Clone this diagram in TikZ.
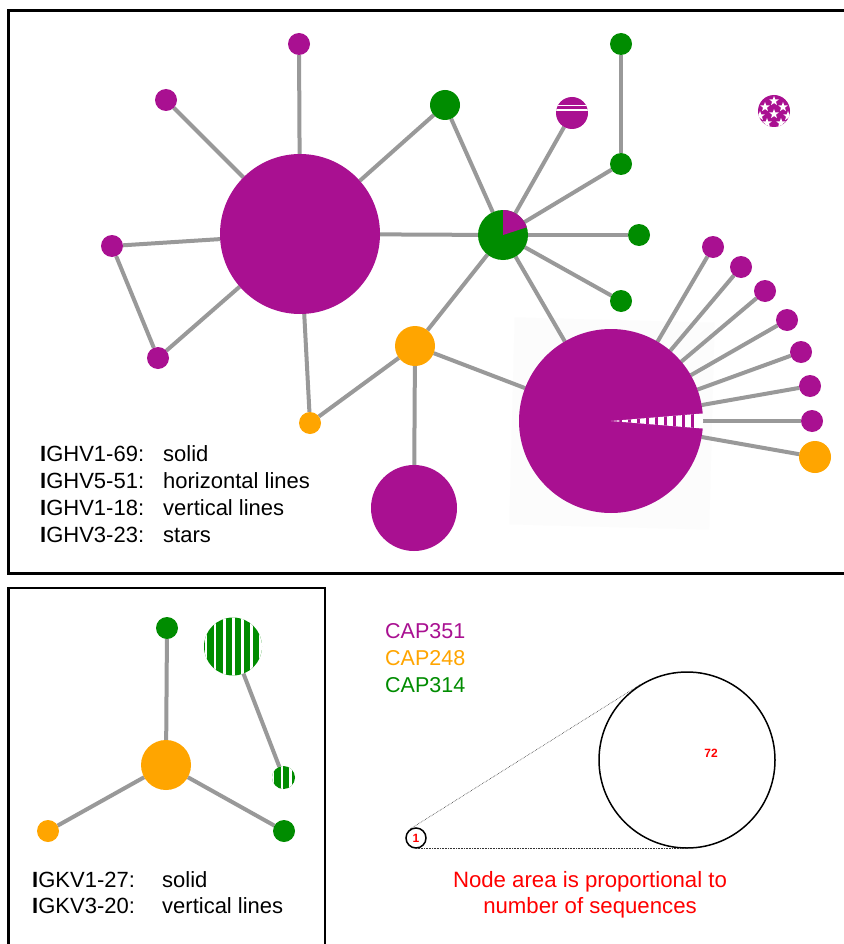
\documentclass[tikz,border=0pt]{standalone}
\usepackage{fontspec}
\setmainfont{Liberation Sans}
\usetikzlibrary{shapes.geometric,backgrounds}
\definecolor{cpur}{RGB}{169,16,145}
\definecolor{corg}{RGB}{255,165,0}
\definecolor{cgrn}{RGB}{0,140,0}
\definecolor{cedge}{RGB}{153,153,153}
\definecolor{cred}{RGB}{255,0,0}
\begin{document}
\begin{tikzpicture}[x=1pt,y=-1pt,
  nd/.style={circle,inner sep=0pt,outer sep=0pt,minimum size=#1},
  pur/.style={nd=#1,fill=cpur},
  org/.style={nd=#1,fill=corg},
  grn/.style={nd=#1,fill=cgrn},
  edge/.style={draw=cedge,line width=4pt},
  frame/.style={draw=black,line width=2.6pt},
  lab/.style={font=\fontsize{22}{26}\selectfont,anchor=base west,inner sep=0pt},
  caplab/.style={font=\fontsize{21.5}{25}\selectfont,anchor=base west,inner sep=0pt},
  redlab/.style={font=\fontsize{22.2}{26}\selectfont,text=cred,anchor=base,inner sep=0pt},
  whitestar/.style={star,star points=5,star point ratio=2.4,fill=white,inner sep=0pt,minimum size=10pt},
  scalecirc/.style={draw=black,circle,line width=1.5pt,inner sep=0pt},
  tangent/.style={draw=black!80,densely dotted,line width=0.6pt}
]
\path[use as bounding box,clip] (0,0) rectangle (843,944);

% ---------- top panel nodes ----------
\node[pur=160pt] (A) at (300,234) {};
\node[pur=22pt] (a1) at (299,44) {};
\node[pur=22pt] (a2) at (166,100) {};
\node[pur=22pt] (a3) at (112,246) {};
\node[pur=22pt] (a4) at (158,358) {};
\node[org=22pt] (o1) at (310,423) {};
\node[grn=30pt] (g1) at (445,105) {};
\node[grn=50pt] (P) at (503,235) {};
\node[pur=32pt] (H) at (572,113) {};
\node[grn=22pt] (g2) at (621,44) {};
\node[grn=22pt] (g3) at (621,164) {};
\node[grn=22pt] (g4) at (639,235) {};
\node[grn=22pt] (g5) at (621,301) {};
\node[org=40pt] (O) at (415,346) {};
\node[pur=86pt] (C) at (414,508) {};
\node[pur=184pt] (B) at (611,421) {};
\node[pur=22pt] (b1) at (713,247) {};
\node[pur=22pt] (b2) at (741,267) {};
\node[pur=22pt] (b3) at (765,291) {};
\node[pur=22pt] (b4) at (787,320) {};
\node[pur=22pt] (b5) at (801,352) {};
\node[pur=22pt] (b6) at (810,386) {};
\node[pur=22pt] (b7) at (812,421) {};
\node[org=32pt] (bo) at (815,457) {};
\node[pur=32pt] (S) at (774,111) {};

% ---------- bottom panel nodes ----------
\node[org=50pt] (K) at (166,765) {};
\node[grn=22pt] (k1) at (167,628) {};
\node[org=22pt] (k2) at (48,831) {};
\node[grn=22pt] (k3) at (284,831) {};
\node[grn=58pt] (V) at (233,646.5) {};
\node[grn=23pt] (v) at (283.5,777.5) {};

% ---------- background, frames, edges ----------
\begin{scope}[on background layer]
  \fill[white] (0,0) rectangle (843,944);
  \draw[frame] (8.7,10.3) rectangle (870,573.7);
  \draw[frame] (8.7,588) rectangle (325,980);
  \fill[black!1.2,rotate around={-1.5:(611,421)}] (512,320) rectangle (712,527);
  \foreach \n in {a1,a2,a3,a4,o1,g1,P} \draw[edge] (A) -- (\n);
  \draw[edge] (a3) -- (a4);
  \foreach \n in {g1,H,g3,g4,g5,O,B} \draw[edge] (P) -- (\n);
  \draw[edge] (g2) -- (g3);
  \foreach \n in {o1,C,B} \draw[edge] (O) -- (\n);
  \foreach \n in {b1,b2,b3,b4,b5,b6,b7,bo} \draw[edge] (B) -- (\n);
  \foreach \n in {k1,k2,k3} \draw[edge] (K) -- (\n);
  \draw[edge] (V) -- (v);
\end{scope}

% pie wedge on P (from 2 o'clock up to 12 o'clock)
\fill[cpur] (P.center) -- plot[domain=18:90,samples=30,smooth] ({503+25*cos(\x)},{235-25*sin(\x)}) -- cycle;

% horizontal lines on H
\begin{scope}
  \clip (H.center) circle[radius=16pt];
  \fill[white] (550,104.9) rectangle (600,106.5);
  \fill[white] (550,109.2) rectangle (600,110.8);
\end{scope}

% vertical-lines wedge on B
\begin{scope}
  \clip (B.center) -- plot[domain=-4.7:4.7,samples=10] ({611+92*cos(\x)},{421-92*sin(\x)}) -- cycle;
  \fill[white] (600,400) rectangle (710,440);
  \foreach \x in {620.5,629.5,638.5,647.5,656.5,665.5,674.5,683.5,692.5}
    \fill[cpur] ({\x-1.5},400) rectangle ({\x+1.5},440);
\end{scope}

% stars on S
\begin{scope}
  \clip (S.center) circle[radius=16pt];
  \foreach \dx/\dy [count=\i] in {0/-10,-9/-4,9/-4,-14/5,0/3,14/5,-7/12,7/12}
    \node[whitestar] (st\i) at ([shift={(\dx,\dy)}]S.center) {};
\end{scope}

% vertical lines on V and v
\begin{scope}
  \clip (V.center) circle[radius=29pt];
  \foreach \x in {206,215,224.5,233.5,242.5,251.5,260.5}
    \fill[white] ({\x-1.2},600) rectangle ({\x+1.2},700);
\end{scope}
\begin{scope}
  \clip (v.center) circle[radius=11.5pt];
  \foreach \x in {272.7,281.7,290.5}
    \fill[white] ({\x-1.1},760) rectangle ({\x+1.1},800);
\end{scope}

% ---------- legends ----------
\node[lab] (l1) at (40,461) {\textbf{I}GHV1-69:};
\node[lab] (l2) at (40,488) {\textbf{I}GHV5-51:};
\node[lab] (l3) at (40,515) {\textbf{I}GHV1-18:};
\node[lab] (l4) at (40,542) {\textbf{I}GHV3-23:};
\node[lab] (m1) at (163,461) {solid};
\node[lab] (m2) at (163,488) {horizontal lines};
\node[lab] (m3) at (163,515) {vertical lines};
\node[lab] (m4) at (163,542) {stars};

\node[lab] (k1l) at (32,887) {\textbf{I}GKV1-27:};
\node[lab] (k2l) at (32,913) {\textbf{I}GKV3-20:};
\node[lab] (k1m) at (162,887) {solid};
\node[lab] (k2m) at (162,913) {vertical lines};

\node[caplab,text=cpur] (c1) at (385,638) {CAP351};
\node[caplab,text=corg] (c2) at (385,665) {CAP248};
\node[caplab,text=cgrn] (c3) at (385,692) {CAP314};

% ---------- scale legend ----------
\node[scalecirc,minimum size=176pt] (big) at (687,760) {};
\node[scalecirc,minimum size=20pt,font=\fontsize{12}{14}\selectfont\bfseries,text=cred] (one) at (416,838) {1};
\node[font=\fontsize{12}{14}\selectfont\bfseries,text=cred] (n72) at (711,753) {72};
\draw[tangent] (one.122.4) -- (big.122.4);
\draw[tangent] (one.south) -- (big.south);

\node[redlab] (r1) at (590,887) {Node area is proportional to};
\node[redlab] (r2) at (590,913) {number of sequences};
\end{tikzpicture}
\end{document}
